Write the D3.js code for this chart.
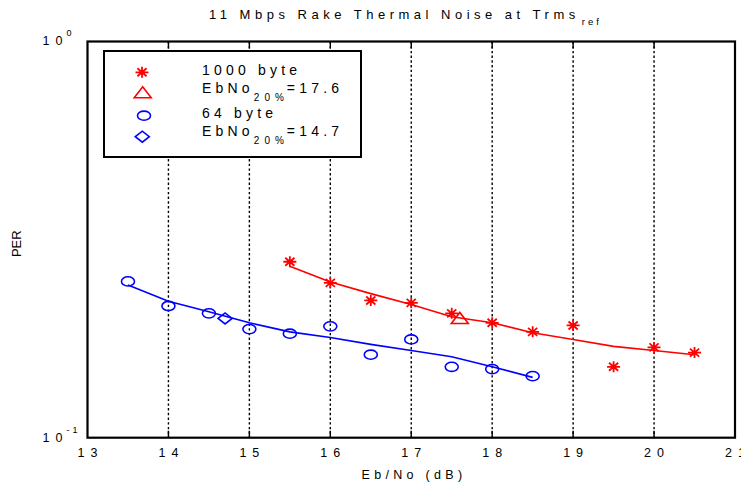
<!DOCTYPE html>
<html>
<head>
<meta charset="utf-8">
<script src="https://cdn.jsdelivr.net/npm/d3@7"></script>
<style>
body { margin: 0; background: #fff; }
text { font-family: "Liberation Sans", Arial, sans-serif; fill: #000; }
</style>
</head>
<body>
<svg id="chart" width="741" height="484"></svg>
<script>
var width = 741,
    height = 484;

// plot box
var boxL = 87.5, boxR = 735, boxT = 41.5, boxB = 437.7;

var xTicks = [13, 14, 15, 16, 17, 18, 19, 20, 21];

// 1000 byte packets
var ebno1000 = [15.5, 16, 16.5, 17, 17.5, 18, 18.5, 19, 19.5, 20, 20.5];
var per1000  = [0.278, 0.246, 0.222, 0.219, 0.206, 0.195, 0.185, 0.192, 0.151, 0.169, 0.164];
var fit1000  = [0.271, 0.247, 0.231, 0.217, 0.202, 0.195, 0.184, 0.177, 0.170, 0.166, 0.162];

// 64 byte packets
var ebno64 = [13.5, 14, 14.5, 15, 15.5, 16, 16.5, 17, 17.5, 18, 18.5];
var per64  = [0.248, 0.215, 0.206, 0.188, 0.183, 0.191, 0.162, 0.177, 0.151, 0.149, 0.143];
var fit64  = [0.243, 0.221, 0.208, 0.195, 0.185, 0.179, 0.172, 0.166, 0.160, 0.151, 0.142];

// EbNo where PER = 20%
var ebno20 = {"1000": 17.6, "64": 14.7};
var per20 = 0.2;

var red = "#ff0000", blue = "#0000ff";

var svg = d3.select("#chart");

var x = d3.scaleLinear().domain([13, 21]).range([boxL, boxR]);
var y = d3.scaleLog().domain([0.1, 1]).range([boxB, boxT]);

// dotted grid + ticks
svg.append("g").selectAll("line").data(xTicks.slice(1, -1))
  .enter().append("line")
    .attr("x1", d => x(d)).attr("x2", d => x(d))
    .attr("y1", boxT).attr("y2", boxB)
    .attr("stroke", "#000").attr("stroke-width", 1.4)
    .attr("stroke-dasharray", "2.4 2.3");

svg.append("g").selectAll("path").data(xTicks.slice(1, -1))
  .enter().append("path")
    .attr("d", d => "M" + x(d) + "," + boxT + "v7M" + x(d) + "," + boxB + "v-7")
    .attr("stroke", "#000").attr("stroke-width", 1.4);

// fitted curves
var line = d3.line().x(d => x(d[0])).y(d => y(d[1]));

svg.append("path")
    .datum(d3.zip(ebno1000, fit1000))
    .attr("d", line).attr("fill", "none")
    .attr("stroke", red).attr("stroke-width", 1.6);

svg.append("path")
    .datum(d3.zip(ebno64, fit64))
    .attr("d", line).attr("fill", "none")
    .attr("stroke", blue).attr("stroke-width", 1.6);

// marker shapes
function star(cx, cy) {
  return "M" + (cx - 6.5) + "," + cy + "h13" +
         "M" + cx + "," + (cy - 5.5) + "v11" +
         "M" + (cx - 4.6) + "," + (cy - 4) + "l9.2,8" +
         "M" + (cx - 4.6) + "," + (cy + 4) + "l9.2,-8";
}
function triangle(cx, cy) {
  return "M" + (cx - 8.5) + "," + (cy + 5) + "L" + cx + "," + (cy - 6) +
         "L" + (cx + 8.5) + "," + (cy + 5) + "Z";
}
function diamond(cx, cy) {
  return "M" + (cx - 7) + "," + cy + "L" + cx + "," + (cy - 5.5) +
         "L" + (cx + 7) + "," + cy + "L" + cx + "," + (cy + 5.5) + "Z";
}

svg.append("g").selectAll("path").data(d3.zip(ebno1000, per1000))
  .enter().append("path")
    .attr("d", d => star(x(d[0]), y(d[1])))
    .attr("stroke", red).attr("stroke-width", 1.8).attr("fill", "none");

svg.append("g").selectAll("ellipse").data(d3.zip(ebno64, per64))
  .enter().append("ellipse")
    .attr("cx", d => x(d[0])).attr("cy", d => y(d[1]))
    .attr("rx", 6.5).attr("ry", 4.6)
    .attr("stroke", blue).attr("stroke-width", 1.6).attr("fill", "none");

svg.append("path")
    .attr("d", triangle(x(ebno20["1000"]), y(per20)))
    .attr("stroke", red).attr("stroke-width", 1.6).attr("fill", "none");

svg.append("path")
    .attr("d", diamond(x(ebno20["64"]), y(per20)))
    .attr("stroke", blue).attr("stroke-width", 1.6).attr("fill", "none");

// axes box
svg.append("rect")
    .attr("x", boxL).attr("y", boxT)
    .attr("width", boxR - boxL).attr("height", boxB - boxT)
    .attr("fill", "none").attr("stroke", "#000").attr("stroke-width", 2.2);

// tick labels
svg.append("g").selectAll("text").data(xTicks)
  .enter().append("text")
    .attr("x", d => x(d) + 3).attr("y", 457)
    .attr("text-anchor", "middle")
    .style("font-size", "12.5px").style("letter-spacing", "6px")
    .text(d => d);

var yLab = svg.append("g").selectAll("text").data([1, 0.1])
  .enter().append("text")
    .attr("x", 42.5).attr("y", d => y(d) + 3.8)
    .style("font-size", "12.5px").style("letter-spacing", "6px");
yLab.append("tspan").text("10");
yLab.append("tspan")
    .attr("dx", -2).attr("dy", -9)
    .style("font-size", "9px").style("letter-spacing", "3px")
    .text(d => d === 1 ? "0" : "-1");

// axis titles
svg.append("text")
    .attr("x", 414).attr("y", 479)
    .attr("text-anchor", "middle")
    .style("font-size", "12.5px").style("letter-spacing", "4.3px")
    .text("Eb/No (dB)");

svg.append("text")
    .attr("transform", "translate(20.7,243.7) rotate(-90)")
    .attr("text-anchor", "middle")
    .style("font-size", "13px")
    .text("PER");

var title = svg.append("text")
    .attr("x", 209).attr("y", 19)
    .style("font-size", "13px").style("letter-spacing", "4.5px");
title.append("tspan").text("11 Mbps Rake Thermal Noise at Trms");
title.append("tspan")
    .attr("dx", 2).attr("dy", 6)
    .style("font-size", "9.5px").style("letter-spacing", "3px")
    .text("ref");

// legend
var lg = svg.append("g");
lg.append("rect")
    .attr("x", 104).attr("y", 51).attr("width", 257).attr("height", 106)
    .attr("fill", "#fff").attr("stroke", "#000").attr("stroke-width", 2);

lg.append("path").attr("d", star(142, 72.3))
    .attr("stroke", red).attr("stroke-width", 1.8).attr("fill", "none");
lg.append("path").attr("d", triangle(142.7, 92.7))
    .attr("stroke", red).attr("stroke-width", 1.6).attr("fill", "none");
lg.append("ellipse").attr("cx", 144).attr("cy", 115.7).attr("rx", 6.5).attr("ry", 4.6)
    .attr("stroke", blue).attr("stroke-width", 1.6).attr("fill", "none");
lg.append("path").attr("d", diamond(142.3, 136.7))
    .attr("stroke", blue).attr("stroke-width", 1.6).attr("fill", "none");

var legendRows = [
  {label: "1000 byte", y: 75},
  {label: "EbNo", sub: "20%", val: "=" + ebno20["1000"], y: 93.3},
  {label: "64 byte", y: 117.7},
  {label: "EbNo", sub: "20%", val: "=" + ebno20["64"], y: 135.7}
];

legendRows.forEach(function(r) {
  var t = lg.append("text")
      .attr("x", 202).attr("y", r.y)
      .style("font-size", "14px").style("letter-spacing", "4.2px");
  t.append("tspan").text(r.label);
  if (r.sub) {
    t.append("tspan").attr("dx", 0).attr("dy", 8)
      .style("font-size", "10px").style("letter-spacing", "5px").text(r.sub);
    t.append("tspan").attr("dx", -2).attr("dy", -8).text(r.val);
  }
});
</script>
</body>
</html>
